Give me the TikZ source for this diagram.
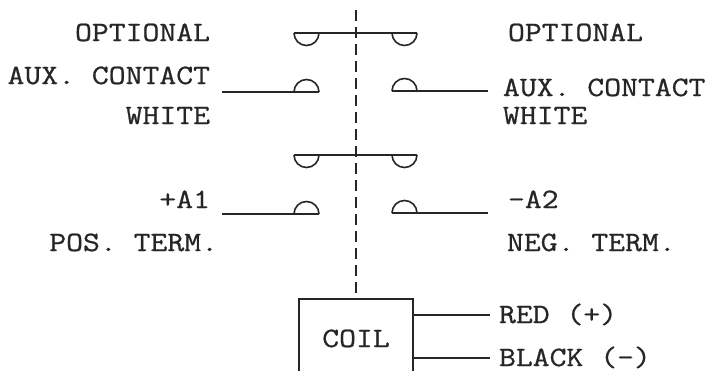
\documentclass[tikz,border=0pt]{standalone}
\usepackage{fontspec}
\setmonofont{Latin Modern Mono}[FakeStretch=1.17,FakeBold=0.8]
\tikzset{
 lbl/.style={inner sep=0pt,outer sep=0pt,font=\ttfamily\fontsize{28}{28}\selectfont,text=black!85},
 lblr/.style={lbl,anchor=base east},
 lbll/.style={lbl,anchor=base west},
 wire/.style={line width=1.3pt,black!85},
 cont/.style={line width=1.6pt,black!85},
 shaft/.style={line width=1.3pt,black!85,dash pattern=on 11pt off 6pt}
}
\begin{document}
\begin{tikzpicture}[x=1pt,y=-1pt]
\path[use as bounding box] (0,0) rectangle (706,370);
\clip (0,0) rectangle (706,370);
\fill[white] (0,0) rectangle (706,370);
% text
\node[lblr] (t1) at (210,41) {OPTIONAL};
\node[lblr] (t2) at (210,84) {AUX. CONTACT};
\node[lblr] (t3) at (210,124) {WHITE};
\node[lblr] (t4) at (210,208) {+A1};
\node[lblr] (t5) at (218,251) {POS. TERM.};
\node[lbll] (t6) at (508,41) {OPTIONAL};
\node[lbll] (t7) at (503,96) {AUX. CONTACT};
\node[lbll] (t8) at (503,124) {WHITE};
\node[lbll] (t9) at (508,208) {-A2};
\node[lbll] (t10) at (507,251) {NEG. TERM.};
\node[lbll] (t11) at (499,323) {RED (+)};
\node[lbll] (t12) at (499,366) {BLACK (-)};
% coordinates
\coordinate (ds) at (356,10);
\coordinate (b1l) at (294,33);
\coordinate (b1r) at (417,33);
\coordinate (b2l) at (294,155);
\coordinate (b2r) at (417,155);
\coordinate (w1s) at (222,92);
\coordinate (w1e) at (319,92);
\coordinate (w2s) at (392,91);
\coordinate (w2e) at (488,91);
\coordinate (w3s) at (222,214);
\coordinate (w3e) at (319,214);
\coordinate (w4s) at (392,213);
\coordinate (w4e) at (488,213);
\coordinate (rs) at (413,315);
\coordinate (re) at (490,315);
\coordinate (ks) at (413,358);
\coordinate (ke) at (490,358);
\coordinate (bt) at (356,299);
% shaft
\draw[shaft] (ds) -- (bt);
% bars with cups
\draw[cont] (b1l) -- (b1r);
\draw[cont] (b1l) arc[start angle=180,end angle=360,x radius=12.5pt,y radius=12.5pt];
\draw[cont] ([xshift=-25pt]b1r) arc[start angle=180,end angle=360,x radius=12.5pt,y radius=12.5pt];
\draw[cont] (b2l) -- (b2r);
\draw[cont] (b2l) arc[start angle=180,end angle=360,x radius=12.5pt,y radius=12.5pt];
\draw[cont] ([xshift=-25pt]b2r) arc[start angle=180,end angle=360,x radius=12.5pt,y radius=12.5pt];
% fixed contacts
\draw[wire] (w1s) -- (w1e);
\draw[cont] ([xshift=-25pt]w1e) arc[start angle=180,end angle=0,x radius=12.5pt,y radius=12.5pt];
\draw[wire] (w2s) -- (w2e);
\draw[cont] (w2s) arc[start angle=180,end angle=0,x radius=12.5pt,y radius=12.5pt];
\draw[wire] (w3s) -- (w3e);
\draw[cont] ([xshift=-25pt]w3e) arc[start angle=180,end angle=0,x radius=12.5pt,y radius=12.5pt];
\draw[wire] (w4s) -- (w4e);
\draw[cont] (w4s) arc[start angle=180,end angle=0,x radius=12.5pt,y radius=12.5pt];
% coil
\draw[wire] (299,375) -- (299,299) -- (413,299) -- (413,375);
\node[lbl,anchor=base] (coil) at (356,347) {COIL};
\draw[wire] (rs) -- (re);
\draw[wire] (ks) -- (ke);
\end{tikzpicture}
\end{document}
